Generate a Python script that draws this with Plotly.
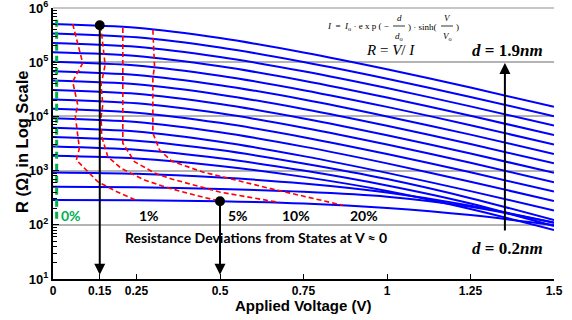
import math
import plotly.graph_objects as go

# ---------------- data ----------------
voltage = [0, 0.25, 0.5, 0.75, 1.0, 1.25, 1.5]
thickness_labels = ["1.9", "1.8", "1.7", "1.6", "1.5", "1.4", "1.3", "1.2", "1.1", "1.0",
                    "0.9", "0.8", "0.7", "0.6", "0.5", "0.4", "0.3", "0.2"]

r_1_9 = [5.06e5, 4.31e5, 2.79e5, 1.51e5, 7.41e4, 3.41e4, 1.50e4]
r_1_8 = [3.39e5, 2.88e5, 1.87e5, 1.01e5, 4.97e4, 2.29e4, 1.01e4]
r_1_7 = [2.27e5, 1.93e5, 1.25e5, 6.79e4, 3.33e4, 1.53e4, 6.75e3]
r_1_6 = [1.52e5, 1.30e5, 8.39e4, 4.56e4, 2.23e4, 1.03e4, 4.53e3]
r_1_5 = [1.02e5, 8.69e4, 5.62e4, 3.05e4, 1.50e4, 6.89e3, 3.03e3]
r_1_4 = [6.84e4, 5.82e4, 3.77e4, 2.05e4, 1.00e4, 4.61e3, 2.03e3]
r_1_3 = [4.58e4, 3.90e4, 2.52e4, 1.37e4, 6.71e3, 3.09e3, 1.36e3]
r_1_2 = [3.07e4, 2.61e4, 1.69e4, 9.18e3, 4.50e3, 2.07e3, 912]
r_1_1 = [2.06e4, 1.75e4, 1.14e4, 6.17e3, 3.02e3, 1.39e3, 612]
r_1_0 = [1.38e4, 1.17e4, 7.60e3, 4.13e3, 2.02e3, 931, 410]
r_0_9 = [9.25e3, 7.87e3, 5.09e3, 2.77e3, 1.36e3, 624, 275]
r_0_8 = [6.19e3, 5.27e3, 3.41e3, 1.85e3, 908, 418, 184]
r_0_7 = [4.16e3, 3.57e3, 2.39e3, 1.35e3, 697, 310, 122]
r_0_6 = [2.79e3, 2.43e3, 1.69e3, 1.00e3, 531, 247, 94.6]
r_0_5 = [1.87e3, 1.67e3, 1.22e3, 766, 422, 196, 80.2]
r_0_4 = [923, 873, 743, 578, 394, 226, 110]
r_0_3 = [504, 491, 457, 406, 330, 215, 109]
r_0_2 = [286, 283, 272, 247, 204, 151, 98.6]

curves = [r_1_9, r_1_8, r_1_7, r_1_6, r_1_5, r_1_4, r_1_3, r_1_2, r_1_1, r_1_0,
          r_0_9, r_0_8, r_0_7, r_0_6, r_0_5, r_0_4, r_0_3, r_0_2]

# deviation contours (1%, 5%, 10%, 20%)
dev1_v = [0.059, 0.070, 0.089, 0.059, 0.074, 0.067, 0.074, 0.079, 0.070, 0.134, 0.193, 0.249]
dev1_r = [5.06e5, 2.79e5, 9.62e4, 4.40e4, 1.63e4, 9.91e3, 4.24e3, 2.58e3, 1.57e3, 624, 402, 284]
dev5_v = [0.143, 0.149, 0.156, 0.144, 0.149, 0.144, 0.146, 0.164, 0.204, 0.274, 0.349, 0.424, 0.5]
dev5_r = [4.71e5, 2.10e5, 8.95e4, 3.82e4, 1.63e4, 9.91e3, 4.24e3, 1.81e3, 1.10e3, 670, 471, 354, 272]
dev10_v = [0.209, 0.209, 0.209, 0.209, 0.244, 0.304, 0.355, 0.499, 0.678]
dev10_r = [4.27e5, 1.11e5, 1.63e4, 3.20e3, 1.46e3, 904, 700, 402, 258]
dev20_v = [0.299, 0.304, 0.299, 0.299, 0.299, 0.319, 0.355, 0.448, 0.648, 0.868]
dev20_r = [3.97e5, 8.34e4, 5.15e4, 1.63e4, 4.95e3, 2.40e3, 1.50e3, 942, 471, 229]
dev_labels = ["1%", "5%", "10%", "20%"]

zero_v = [0.011, 0.011]
zero_r = [6.1e5, 114]

dot_v = [0.14, 0.5]
dot_r = [4.8e5, 272]
arrow_tip_r = 12

d_arrow_v = 1.353
d_arrow_r = [74, 9.7e4]

x_tickvals = [0, 0.14, 0.25, 0.5, 0.75, 1, 1.25, 1.5]
x_ticktext = ["0", "0.15", "0.25", "0.5", "0.75", "1", "1.25", "1.5"]
y_tickvals = [10, 100, 1000, 10000, 100000, 1000000]
y_ticktext = ["10<sup>1</sup>", "10<sup>2</sup>", "10<sup>3</sup>",
              "10<sup>4</sup>", "10<sup>5</sup>", "10<sup>6</sup>"]

# ---------------- figure ----------------
BLUE = "#0000ff"
RED = "#ff0000"
GREEN = "#00b050"
GRID = "#b4b4b4"

fig = go.Figure()

for name, r in zip(thickness_labels, curves):
    fig.add_trace(go.Scatter(x=voltage, y=r, mode="lines", name=f"d={name}nm",
                             line=dict(color=BLUE, width=2, shape="spline", smoothing=0.8),
                             hoverinfo="skip"))

for v, r in [(dev1_v, dev1_r), (dev5_v, dev5_r), (dev10_v, dev10_r), (dev20_v, dev20_r)]:
    fig.add_trace(go.Scatter(x=v, y=r, mode="lines",
                             line=dict(color=RED, width=1.6, dash="5px,3px"),
                             hoverinfo="skip"))

fig.add_trace(go.Scatter(x=zero_v, y=zero_r, mode="lines",
                         line=dict(color=GREEN, width=3, dash="7px,5px"), hoverinfo="skip"))

fig.add_trace(go.Scatter(x=dot_v, y=dot_r, mode="markers",
                         marker=dict(color="black", size=10), hoverinfo="skip"))

# arrows
for v, r in zip(dot_v, dot_r):
    fig.add_annotation(x=v, y=math.log10(arrow_tip_r), ax=v, ay=math.log10(r),
                       xref="x", yref="y", axref="x", ayref="y", text="",
                       showarrow=True, arrowhead=2, arrowsize=1.1, arrowwidth=2,
                       arrowcolor="black", standoff=0, startstandoff=0)
fig.add_annotation(x=d_arrow_v, y=math.log10(d_arrow_r[1]), ax=d_arrow_v, ay=math.log10(d_arrow_r[0]),
                   xref="x", yref="y", axref="x", ayref="y", text="",
                   showarrow=True, arrowhead=2, arrowsize=1.1, arrowwidth=2,
                   arrowcolor="black", standoff=0, startstandoff=0)

# layout geometry (page body margin removed in post_script)
W, H = 572, 320
L, R_, T, B = 53, 18, 8, 41
PW, PH = W - L - R_, H - T - B


def px(x):
    return (x - L) / PW


def py(y):
    return 1 - (y - T) / PH


def txt(x, y, s, size=13, color="black", family="Lato", weight="bold", xanchor="center", style="normal"):
    fig.add_annotation(x=px(x), y=py(y), xref="paper", yref="paper", text=s, showarrow=False,
                       xanchor=xanchor, yanchor="middle",
                       font=dict(size=size, color=color, family=family, weight=weight, style=style))


txt(71, 215, "0%", color=GREEN, size=14)
for s, xx in zip(dev_labels, [149, 238, 296, 364]):
    txt(xx, 215, s, size=14)
txt(256, 237, "Resistance Deviations from States at V \u2248 0", size=14)

serif = "Liberation Serif"
txt(507, 50, "<i>d</i> = 1.9<i>nm</i>", size=17, family=serif)
txt(507, 248, "<i>d</i> = 0.2<i>nm</i>", size=17, family=serif)
txt(390, 50, "<i>R</i> = <i>V</i>/ <i>I</i>", size=15, family=serif, weight="normal")

# formula I = I0 exp(-d/d0) sinh(V/V0)
fs = 9
txt(391, 27, "<i>I</i>  =  <i>I</i><sub>o</sub> \u00b7 e x p ( \u2212", size=fs, family=serif, weight="normal", xanchor="right")
txt(399, 18, "<i>d</i>", size=fs, family=serif, weight="normal")
txt(399, 36, "<i>d</i><sub>o</sub>", size=fs, family=serif, weight="normal")
txt(406, 27, ") \u00b7 sinh(", size=fs, family=serif, weight="normal", xanchor="left")
txt(447, 18, "<i>V</i>", size=fs, family=serif, weight="normal")
txt(447, 36, "<i>V</i><sub>o</sub>", size=fs, family=serif, weight="normal")
txt(454, 27, ")", size=fs, family=serif, weight="normal", xanchor="left")
for x0, x1 in [(393, 405), (441, 453)]:
    fig.add_shape(type="line", xref="paper", yref="paper", x0=px(x0), x1=px(x1),
                  y0=py(26), y1=py(26), line=dict(color="black", width=0.8))

# top grid line (10^6)
fig.add_shape(type="line", xref="paper", yref="paper", x0=0, x1=1, y0=1, y1=1,
              line=dict(color=GRID, width=1.5), layer="below")

# axis titles placed as annotations at the reference positions
txt(303, 305.5, "Applied Voltage (V)", size=15, family="Liberation Sans")
fig.add_annotation(x=px(22), y=py(142), xref="paper", yref="paper", text="R (\u03a9) in Log Scale",
                   showarrow=False, textangle=-90, xanchor="center", yanchor="middle",
                   font=dict(size=16.5, family="Liberation Sans", weight="bold", color="black"))

fig.update_layout(
    width=W, height=H, margin=dict(l=L, r=R_, t=T, b=B, autoexpand=False),
    paper_bgcolor="white", plot_bgcolor="white", showlegend=False, hovermode=False,
    font=dict(family="Liberation Sans", color="black"),
)
fig.update_xaxes(range=[0, 1.5], tickvals=x_tickvals, ticktext=x_ticktext, automargin=False,
                 showgrid=False, zeroline=False, showline=True, linecolor="black", linewidth=2,
                 ticks="inside", ticklen=5, tickwidth=1, tickcolor="black",
                 ticklabeloverflow="allow",
                 tickfont=dict(family="Liberation Sans", size=12, weight="bold"))
fig.update_yaxes(type="log", range=[1, 6], tickvals=y_tickvals, ticktext=y_ticktext, automargin=False,
                 showgrid=True, gridcolor=GRID, gridwidth=1.5, zeroline=False,
                 showline=True, linecolor="black", linewidth=2,
                 ticks="inside", ticklen=6, tickwidth=1, tickcolor="black",
                 ticklabeloverflow="allow",
                 minor=dict(ticks="inside", ticklen=4, tickcolor="black", dtick="D1", showgrid=False),
                 tickfont=dict(family="Liberation Sans", size=13, weight="bold"))

fig.write_html("out.html", config={"displayModeBar": False},
               post_script="document.body.style.margin='0';")
